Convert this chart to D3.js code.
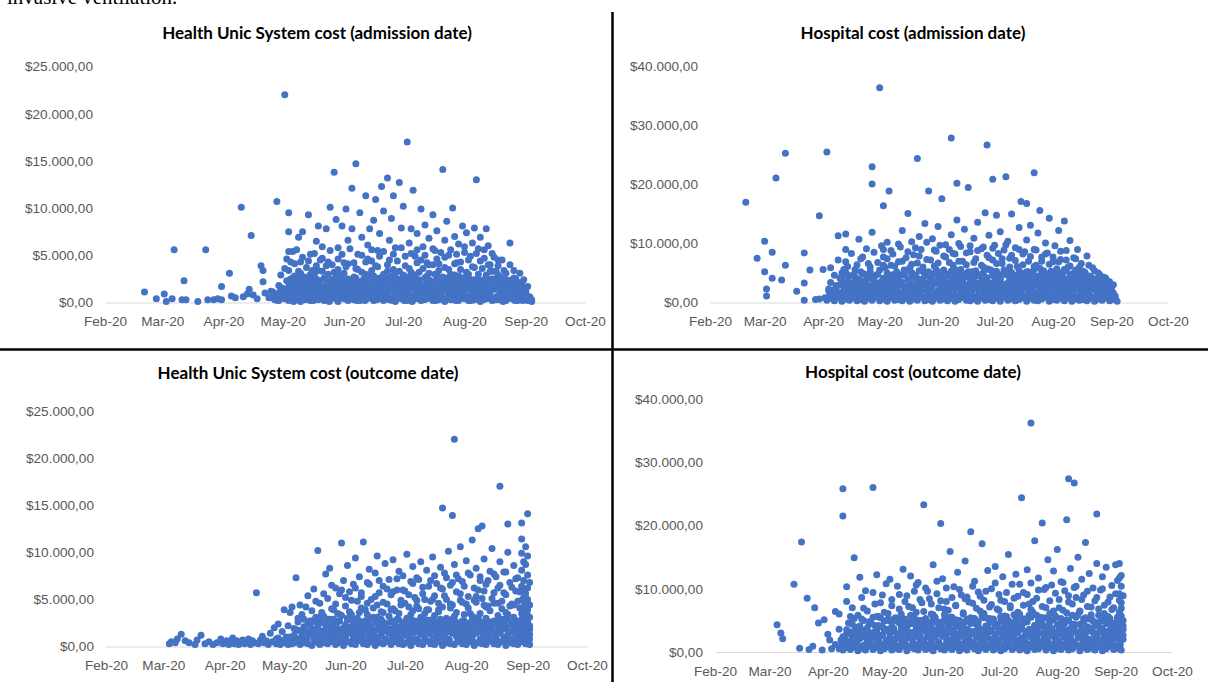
<!DOCTYPE html>
<html>
<head>
<meta charset="utf-8">
<script src="https://cdn.jsdelivr.net/npm/d3@7/dist/d3.min.js"></script>
<style>
  body { margin: 0; background: #fff; }
  svg { display: block; font-family: Lato, 'Open Sans', sans-serif; }
</style>
</head>
<body>
<svg id="chart" width="1208" height="682"></svg>
<script>
// x values are days counted from 1 Feb 2020, y values are in thousands of $
const monthLabels = ['Feb-20', 'Mar-20', 'Apr-20', 'May-20', 'Jun-20', 'Jul-20', 'Aug-20', 'Sep-20', 'Oct-20'];
const monthStarts = [0, 29, 60, 90, 121, 151, 182, 213, 243];
const sisTicks = [0, 5, 10, 15, 20, 25];
const hospTicks = [0, 10, 20, 30, 40];

// Health Unic System cost by admission date
const sisAdmHigh = [
  [20,1.1],[26,.4],[30,.9],[31,.1],[34,.4],[35,5.6],[39,.3],[40,2.3],[41,.3],[47,.1],[51,5.6],[52,.3],[55,.3],[57,.4],
  [59,.3],[59,1.7],[63,3.1],[64,.7],[66,.5],[69,10.1],[70,.6],[72,.9],[73,1.4],[74,7.1],[75,.8],[77,.4],[79,3.9],[80,3.4],
  [80,2.2],[81,1.0],[83,.5],[84,1.2],[86,.8],[87,10.7],[88,.4],[89,1.3],[91,22.0],[93,9.5],[93,7.5],[93,5.4],[95,5.4],
  [97,5.6],[92,4.6],[94,4.3],[93,3.4],[98,6.9],[98,2.4],[93,2.1],
  [99,4.3],[100,7.5],[103,9.3],[104,5.1],[105,3.4],[107,6.5],[108,8.1],[109,4.5],[110,5.9],[112,7.8],[113,4.3],[114,10.1],
  [116,13.8],[117,8.8],[118,5.8],[120,8.1],[121,4.2],[122,9.9],[123,6.6],[125,12.1],[125,7.8],[127,14.7],[128,5.1],
  [129,9.5],[130,6.9],[132,11.3],[133,6.1],[134,7.8],[135,4.4],[136,8.7],[137,10.9],[138,5.5],[139,7.3],[140,12.3],
  [141,9.7],[143,13.2],[144,6.6],[145,8.9],[146,11.3],[147,5.8],[149,12.7],[150,7.9],[151,10.2],[153,17.0],[154,6.3],
  [155,7.8],[156,11.9],[157,4.9],[158,7.3],[160,9.9],[161,5.9],[162,8.2],[163,4.2],[164,6.8],[166,9.3],[167,5.5],
  [168,7.6],[169,4.1],[171,14.1],[172,6.6],[173,8.6],[174,5.0],[176,10.0],[177,7.0],[178,4.2],[179,6.2],[181,8.1],
  [182,5.3],[183,7.4],[184,4.5],[186,6.3],[187,7.9],[188,13.0],[189,5.7],[190,6.9],[192,4.7],[193,7.8],[194,6.0],
  [195,4.0],[196,5.2],[198,3.3],[199,4.5],[201,2.5],[202,3.4],[205,6.3],[206,2.4],[208,1.7],[209,1.2],[211,1.3],
  [213,.7],[215,.4],[216,.3]
];
const sisAdmMid = [
  [96,2.8],[97,1.9],[99,3.1],[100,2.2],[101,1.6],[102,3.7],[103,2.5],[104,1.8],[106,2.9],[107,3.9],[108,2.1],[109,1.5],
  [110,3.3],[111,2.6],[112,1.9],[113,3.0],[114,2.3],[115,4.0],[116,1.7],[117,2.8],[118,3.5],[119,2.0],[120,1.6],
  [121,3.1],[122,2.4],[123,4.1],[124,1.8],[126,2.7],[127,3.6],[128,2.2],[129,1.7],[130,3.2],[131,2.5],[132,4.3],
  [133,1.9],[134,2.9],[135,3.4],[136,2.1],[137,1.6],[138,3.8],[139,2.6],[140,1.9],[141,3.0],[142,2.3],[143,4.0],
  [144,1.7],[145,2.8],[146,3.5],[147,2.0],[148,1.6],[149,3.3],[150,2.5],[151,1.8],[152,3.9],[153,2.7],[154,2.1],
  [155,3.2],[156,1.7],[157,2.9],[158,4.2],[159,2.4],[160,1.9],[161,3.6],[162,2.6],[163,1.7],[164,3.1],[165,2.2],
  [166,4.0],[167,1.8],[168,2.9],[169,3.4],[170,2.0],[171,1.6],[172,3.7],[173,2.5],[174,1.9],[175,3.0],[176,2.3],
  [177,4.1],[178,1.7],[179,2.8],[180,3.5],[181,2.1],[182,1.6],[183,3.2],[184,2.6],[185,1.9],[186,3.8],[187,2.4],
  [188,1.8],[189,3.0],[190,2.2],[191,3.6],[192,1.7],[193,2.7],[194,2.0],[195,3.3],[196,1.6],[197,2.5],[198,2.0],
  [199,2.9],[200,1.7],[201,1.9],[203,2.4],[204,1.6],[206,1.9],[207,2.6],[209,1.6],[210,2.1],[212,1.5]
];
const sisAdmMore = [
  [88,1.8],[89,2.9],[90,1.5],[91,3.6],[92,1.2],[94,2.5],[95,1.4],[96,4.1],[97,1.3],[98,3.3],[99,1.9],[100,4.8],[101,2.7],
  [102,1.3],[103,4.4],[104,3.0],[105,1.6],[106,5.2],[107,2.0],[108,3.4],[109,1.2],[110,4.7],[111,1.5],[112,3.9],
  [113,1.3],[114,5.5],[115,2.4],[116,3.2],[117,1.4],[118,4.6],[119,2.9],[120,5.1],[121,1.3],[122,3.8],[123,2.0],
  [124,5.7],[125,1.5],[126,4.2],[127,2.3],[128,3.5],[129,1.4],[130,5.0],[131,1.8],[132,3.0],[133,4.6],[134,1.3],
  [135,5.6],[136,2.8],[137,3.9],[138,1.5],[139,4.9],[140,2.4],[141,5.4],[142,1.4],[143,3.3],[144,4.5],[145,1.7],
  [146,5.1],[147,3.1],[148,4.4],[149,1.5],[150,5.8],[151,2.9],[152,4.9],[153,1.3],[154,3.6],[155,5.2],[156,2.6],
  [157,1.4],[158,5.6],[159,3.2],[160,4.5],[161,1.2],[162,5.0],[163,2.8],[164,4.0],[165,1.5],[166,5.7],[167,3.0],
  [168,4.6],[169,1.3],[170,5.3],[171,2.7],[172,4.8],[173,1.4],[174,3.5],[175,5.6],[176,1.6],[177,2.9],[178,5.1],
  [179,1.3],[180,4.3],[181,2.6],[182,5.9],[183,1.5],[184,3.0],[185,4.9],[186,1.2],[187,3.7],[188,5.2],[189,2.2],
  [190,4.4],[191,1.4],[192,5.6],[193,2.9],[194,4.0],[195,1.3],[196,3.3],[197,4.8],[198,1.6],[199,3.9],[200,2.7],
  [201,4.5],[202,1.4],[203,3.1],[204,2.3],[205,4.0],[206,1.3],[207,3.4],[208,2.5],[209,2.0],[210,3.1],[211,1.6],
  [212,2.4],[213,1.2],[214,1.7]
];
const sisAdmFill = [
  [92,2.3],[93,1.6],[94,2.0],[95,2.6],[96,1.5],[97,2.2],[98,1.8],[99,2.5],[100,1.4],[101,2.1],[102,2.6],[103,1.7],
  [104,2.4],[105,2.0],[106,1.5],[107,2.5],[108,1.8],[109,2.3],[110,1.6],[111,2.6],[112,1.4],[113,2.1],[114,1.9],
  [115,2.4],[116,1.5],[117,2.2],[118,2.6],[119,1.7],[120,2.4],[121,1.9],[122,1.5],[123,2.5],[124,2.0],[125,2.3],
  [126,1.6],[127,2.6],[128,1.8],[129,2.2],[130,1.5],[131,2.4],[132,2.0],[133,1.7],[134,2.6],[135,1.9],[136,2.3],
  [137,1.4],[138,2.1],[139,2.5],[140,1.6],[141,2.2],[142,1.8],[143,2.6],[144,1.5],[145,2.3],[146,2.0],[147,1.7],
  [148,2.5],[149,1.9],[150,2.2],[151,1.4],[152,2.4],[153,1.8],[154,2.6],[155,1.6],[156,2.1],[157,2.5],[158,1.7],
  [159,2.3],[160,1.9],[161,1.5],[162,2.6],[163,2.0],[164,2.4],[165,1.6],[166,2.2],[167,1.8],[168,2.5],[169,1.5],
  [170,2.3],[171,2.0],[172,1.7],[173,2.6],[174,1.9],[175,2.4],[176,1.5],[177,2.1],[178,2.5],[179,1.8],[180,2.2],
  [181,1.6],[182,2.6],[183,2.0],[184,1.7],[185,2.4],[186,1.9],[187,2.3],[188,1.5],[189,2.5],[190,2.0],[191,1.7],
  [192,2.4],[193,1.9],[194,2.2],[195,1.6],[196,2.5],[197,1.8],[198,2.3],[199,1.5],[200,2.1],[201,1.8],[202,2.4],
  [203,1.6],[204,2.0],[205,1.5],[206,2.2],[207,1.7],[208,1.9],[210,1.5],[211,2.0],[212,1.4]
];
const sisAdmLow = [
  [84,.5],[85,1.1],[86,.3],[87,.9],[88,.2],[89,1.3],[90,.6],[91,.4],[92,1.0],[93,.2],[94,1.4],[95,.5],[96,.8],[97,.3],
  [98,1.2],[99,.1],[100,.7],[101,1.0],[102,.4],[103,1.3],[104,.2],[105,.9],[106,.6],[107,1.1],[108,.3],[109,1.4],
  [110,.5],[111,.2],[112,1.0],[113,.7],[114,.3],[115,1.2],[116,.5],[117,.9],[118,.1],[119,1.3],[120,.6],[121,.4],
  [122,1.1],[123,.2],[124,.8],[125,1.4],[126,.3],[127,1.0],[128,.5],[129,.2],[130,1.2],[131,.7],[132,.3],[133,1.3],
  [134,.5],[135,.9],[136,.2],[137,1.1],[138,.6],[139,.4],[140,1.4],[141,.2],[142,.8],[143,1.0],[144,.3],[145,1.2],
  [146,.5],[147,.1],[148,.9],[149,1.3],[150,.4],[151,.7],[152,1.1],[153,.2],[154,1.4],[155,.6],[156,.3],[157,1.0],
  [158,.5],[159,1.2],[160,.2],[161,.8],[162,1.3],[163,.4],[164,.6],[165,1.1],[166,.2],[167,.9],[168,1.4],[169,.3],
  [170,1.0],[171,.5],[172,.1],[173,1.2],[174,.7],[175,.3],[176,1.3],[177,.5],[178,.9],[179,.2],[180,1.1],[181,.6],
  [182,.4],[183,1.4],[184,.2],[185,.8],[186,1.0],[187,.3],[188,1.2],[189,.5],[190,.1],[191,.9],[192,1.3],[193,.4],
  [194,.7],[195,1.1],[196,.2],[197,1.4],[198,.6],[199,.3],[200,1.0],[201,.5],[202,1.2],[203,.2],[204,.8],[205,1.3],
  [206,.4],[207,.6],[208,1.1],[209,.2],[210,.9],[211,.5],[212,.3],[213,1.0],[214,.2],[215,.6],[216,.1],
  [85.5,.6],[87.5,.2],[89.5,.7],[91.5,1.2],[93.5,.8],[95.5,.1],[97.5,1.1],[99.5,.6],[101.5,.3],[103.5,.8],[105.5,.2],
  [107.5,.5],[109.5,.9],[111.5,1.2],[113.5,.1],[115.5,.6],[117.5,.3],[119.5,.8],[121.5,1.2],[123.5,.7],[125.5,.4],
  [127.5,.2],[129.5,.9],[131.5,.2],[133.5,.7],[135.5,.4],[137.5,.3],[139.5,1.0],[141.5,.9],[143.5,.5],[145.5,.2],
  [147.5,1.0],[149.5,.6],[151.5,.2],[153.5,.9],[155.5,.1],[157.5,.4],[159.5,.7],[161.5,.3],[163.5,1.0],[165.5,.5],
  [167.5,.2],[169.5,.8],[171.5,1.2],[173.5,.4],[175.5,.9],[177.5,.2],[179.5,.7],[181.5,1.0],[183.5,.6],[185.5,.2],
  [187.5,.9],[189.5,1.0],[191.5,.3],[193.5,1.1],[195.5,.5],[197.5,.3],[199.5,.8],[201.5,.1],[203.5,.9],[205.5,.5],
  [207.5,.2],[209.5,.7],[211.5,.2],[213.5,.4],[215.5,.3]
];

// Hospital cost by admission date
const hospAdmHigh = [
  [19,17.0],[25,7.5],[29,10.4],[29,5.2],[30,2.3],[30,1.1],[33,8.5],[33,4.1],[35,21.1],[38,3.8],[40,25.3],[40,6.3],
  [46,1.9],[50,8.4],[50,3.3],[50,.4],[53,5.5],[56,.5],[58,14.7],[58,.6],[60,5.6],[61,.8],[62,25.5],[63,2.3],[68,11.3],
  [70,3.3],[71,5.6],[72,11.6],[72,9.0],[72,6.9],[76,3.0],[77,5.6],[78,3.9],[79,10.7],[80,7.4],[84,6.6],[86,23.0],
  [86,20.1],[86,11.9],[90,36.4],[92,16.4],[92,9.0],[92,7.7],[92,6.3],[94,10.2],[95,18.9],[95,3.8],[96,6.3],[97,8.2],
  [100,6.9],[101,9.4],[102,12.2],[103,4.8],[104,7.6],[105,15.1],[106,5.9],[107,10.3],[108,8.1],[109,4.4],[110,24.4],
  [110,6.7],[111,11.2],[112,9.0],[113,5.3],[114,13.4],[115,7.3],[116,18.9],[117,4.6],[118,10.8],[119,6.2],[120,8.7],
  [121,12.9],[122,5.1],[123,17.6],[124,7.9],[125,9.8],[126,4.5],[127,6.8],[128,27.9],[128,11.5],[129,8.3],[130,5.6],
  [131,20.2],[131,14.0],[132,7.0],[133,9.5],[134,4.9],[135,12.4],[136,6.4],[137,19.5],[138,8.6],[139,5.2],[140,10.9],
  [141,7.4],[142,13.6],[143,4.7],[144,9.1],[145,6.0],[146,15.2],[147,26.7],[147,8.0],[148,11.4],[149,5.5],[150,20.9],
  [150,7.2],[151,9.7],[152,14.8],[153,4.8],[154,12.0],[155,6.6],[156,8.9],[157,21.3],[157,5.3],[158,10.4],[159,7.5],
  [160,15.0],[161,4.4],[162,9.3],[163,6.1],[164,12.7],[165,17.1],[166,8.2],[167,5.0],[168,16.8],[168,10.6],[169,7.0],
  [170,13.1],[171,4.6],[172,22.0],[172,9.0],[173,6.3],[174,11.8],[175,15.6],[176,7.7],[177,5.4],[178,10.1],[179,8.4],
  [180,14.3],[181,4.9],[182,6.9],[183,9.6],[184,5.7],[185,12.2],[186,7.3],[187,4.5],[188,13.8],[189,8.8],[190,6.0],
  [191,10.5],[192,4.8],[193,7.6],[194,5.5],[195,9.0],[196,4.2],[197,6.6],[199,5.1],[200,7.9],[202,4.4],[203,5.9],
  [205,3.8],[206,5.0],[208,3.5],[209,4.3],[211,3.1],[212,2.4],[214,1.6],[215,.8]
];
const hospAdmMid = [
  [64,3.4],[66,4.6],[67,2.9],[69,4.1],[71,3.0],[73,4.7],[74,3.3],[75,2.8],[77,4.3],[79,3.1],[81,4.9],[82,2.7],[83,3.8],
  [85,4.4],[87,3.2],[88,2.6],[89,4.8],[91,3.6],[93,2.9],[94,4.2],[96,3.3],[98,4.5],[99,2.8],[100,3.9],[102,3.1],
  [103,4.6],[105,2.7],[106,3.7],[107,4.9],[109,3.0],[110,4.1],[112,2.8],[113,3.6],[114,4.7],[116,3.2],[117,2.6],
  [118,4.0],[120,3.4],[121,4.8],[122,2.9],[124,3.9],[125,4.5],[126,3.1],[128,2.7],[129,4.2],[130,3.5],[132,4.9],
  [133,2.8],[134,3.7],[136,4.4],[137,3.0],[138,2.6],[140,4.1],[141,3.3],[142,4.7],[144,2.9],[145,3.8],[146,4.3],
  [148,3.2],[149,2.7],[150,4.6],[152,3.5],[153,2.8],[154,4.0],[156,3.1],[157,4.8],[158,2.6],[160,3.9],[161,3.3],
  [162,4.4],[164,2.9],[165,3.6],[166,4.7],[168,3.0],[169,4.2],[170,2.7],[172,3.8],[173,4.5],[174,3.2],[176,2.8],
  [177,4.1],[178,3.4],[180,4.9],[181,2.9],[182,3.7],[184,4.3],[185,3.1],[186,2.6],[188,4.0],[189,3.5],[190,2.8],
  [192,3.9],[193,3.0],[194,4.4],[196,2.7],[197,3.6],[198,4.1],[200,3.2],[201,2.6],[202,3.8],[204,3.0],[205,2.7],
  [207,3.3],[208,2.8],[210,2.9],[211,2.5],[213,2.7]
];
const hospAdmMore = [
  [64,5.9],[66,2.2],[68,7.2],[69,3.0],[70,5.0],[72,1.9],[73,6.1],[74,2.6],[75,8.3],[76,4.6],[78,6.4],[79,2.1],[80,5.2],
  [81,7.7],[82,3.7],[83,9.1],[84,2.4],[85,6.0],[86,4.0],[87,8.5],[88,1.7],[89,6.8],[90,3.0],[91,9.6],[92,2.5],[93,5.9],
  [94,7.4],[95,2.0],[96,8.8],[97,4.7],[98,6.2],[99,1.8],[100,9.9],[101,3.5],[102,7.0],[103,2.3],[104,5.3],[105,8.6],
  [106,1.9],[107,6.5],[108,4.2],[109,9.3],[110,2.7],[111,7.9],[112,3.9],[113,6.0],[114,2.1],[115,10.2],[116,4.8],
  [117,7.2],[118,1.8],[119,8.9],[120,3.6],[121,6.7],[122,9.7],[123,2.4],[124,5.5],[125,7.7],[126,3.0],[127,9.0],
  [128,1.9],[129,6.3],[130,8.2],[131,3.4],[132,10.0],[133,5.6],[134,7.0],[135,2.2],[136,8.4],[137,4.5],[138,9.6],
  [139,2.8],[140,6.8],[141,5.0],[142,8.8],[143,1.7],[144,6.3],[145,9.4],[146,3.2],[147,5.7],[148,7.6],[149,2.5],
  [150,9.2],[151,4.3],[152,6.6],[153,8.3],[154,2.0],[155,7.4],[156,5.1],[157,9.8],[158,3.3],[159,6.0],[160,8.0],
  [161,2.3],[162,7.1],[163,4.6],[164,9.0],[165,2.9],[166,6.4],[167,8.6],[168,3.7],[169,5.2],[170,7.8],[171,1.9],
  [172,6.1],[173,8.9],[174,3.0],[175,5.8],[176,7.0],[177,2.6],[178,8.2],[179,4.1],[180,6.5],[181,2.2],[182,7.7],
  [183,5.0],[184,3.2],[185,6.9],[186,8.7],[187,2.4],[188,5.6],[189,7.2],[190,3.5],[191,6.2],[192,2.1],[193,5.0],
  [194,7.4],[195,3.0],[196,6.0],[197,2.4],[198,5.3],[199,3.6],[200,4.5],[201,6.3],[202,2.2],[203,4.0],[204,5.4],
  [205,2.6],[206,3.7],[207,4.6],[208,2.0],[209,3.3],[210,4.1],[211,1.8],[212,3.5],[213,2.3],[214,3.0]
];
const hospAdmFill = [
  [70,4.2],[71,3.0],[72,5.1],[73,3.6],[74,2.7],[75,4.5],[76,3.3],[77,5.4],[78,2.8],[79,4.0],[80,3.5],[81,2.6],[82,4.8],
  [83,3.1],[84,4.3],[85,5.3],[86,2.9],[87,3.9],[88,4.6],[89,3.2],[90,5.5],[91,2.7],[92,4.1],[93,3.7],[94,5.0],[95,3.0],
  [96,4.4],[97,2.8],[98,3.6],[99,5.2],[100,2.9],[101,4.7],[102,3.4],[103,5.5],[104,2.6],[105,4.0],[106,3.5],[107,5.1],
  [108,2.9],[109,4.6],[110,3.2],[111,5.4],[112,3.9],[113,2.7],[114,4.5],[115,3.3],[116,5.2],[117,3.8],[118,2.8],
  [119,4.9],[120,5.6],[121,3.1],[122,4.3],[123,3.6],[124,5.0],[125,2.7],[126,4.8],[127,3.4],[128,5.3],[129,3.0],
  [130,4.6],[131,2.6],[132,3.9],[133,5.5],[134,3.1],[135,4.4],[136,2.9],[137,5.2],[138,3.7],[139,4.0],[140,2.8],
  [141,5.4],[142,3.2],[143,4.5],[144,3.6],[145,5.0],[146,2.7],[147,4.2],[148,5.6],[149,3.3],[150,4.7],[151,2.9],
  [152,5.3],[153,3.5],[154,4.1],[155,3.0],[156,5.5],[157,2.6],[158,4.6],[159,3.8],[160,5.1],[161,2.8],[162,4.3],
  [163,3.4],[164,5.4],[165,3.1],[166,4.0],[167,3.6],[168,5.2],[169,2.7],[170,4.9],[171,3.3],[172,5.6],[173,2.9],
  [174,4.4],[175,3.5],[176,5.0],[177,3.0],[178,4.7],[179,2.6],[180,3.9],[181,5.3],[182,3.2],[183,4.5],[184,2.8],
  [185,5.1],[186,3.7],[187,4.2],[188,2.9],[189,5.4],[190,3.3],[191,4.6],[192,3.0],[193,4.8],[194,2.7],[195,3.9],
  [196,5.0],[197,3.2],[198,4.3],[199,2.8],[200,3.7],[201,4.5],[202,3.1],[203,3.6],[204,4.0],[205,3.3],[206,2.7],
  [207,3.9],[208,3.0],[209,2.6],[210,3.4],[211,2.8],[212,3.1]
];
const hospAdmLow = [
  [62,.4],[63,2.0],[64,.7],[65,1.8],[66,.3],[67,2.3],[68,.9],[69,1.6],[70,.2],[71,2.1],[72,.6],[73,2.4],[74,.4],
  [75,1.7],[76,.8],[77,2.2],[78,.3],[79,1.9],[80,.5],[81,2.4],[82,.2],[83,1.6],[84,.7],[85,2.0],[86,.4],[87,2.3],
  [88,.9],[89,1.8],[90,.3],[91,2.1],[92,.6],[93,1.7],[94,.2],[95,2.4],[96,.8],[97,1.9],[98,.4],[99,2.2],[100,.5],
  [101,1.6],[102,.3],[103,2.0],[104,.7],[105,2.3],[106,.2],[107,1.8],[108,.6],[109,2.1],[110,.4],[111,1.7],[112,.9],
  [113,2.4],[114,.3],[115,1.9],[116,.5],[117,2.2],[118,.2],[119,1.6],[120,.8],[121,2.0],[122,.4],[123,2.3],[124,.6],
  [125,1.8],[126,.3],[127,2.1],[128,.7],[129,1.7],[130,.2],[131,2.4],[132,.5],[133,1.9],[134,.9],[135,2.2],[136,.4],
  [137,1.6],[138,.3],[139,2.0],[140,.6],[141,2.3],[142,.2],[143,1.8],[144,.8],[145,2.1],[146,.4],[147,1.7],[148,.5],
  [149,2.4],[150,.3],[151,1.9],[152,.7],[153,2.2],[154,.2],[155,1.6],[156,.9],[157,2.0],[158,.4],[159,2.3],[160,.6],
  [161,1.8],[162,.3],[163,2.1],[164,.5],[165,1.7],[166,.8],[167,2.4],[168,.2],[169,1.9],[170,.7],[171,2.2],[172,.4],
  [173,1.6],[174,.3],[175,2.0],[176,.6],[177,2.3],[178,.9],[179,1.8],[180,.2],[181,2.1],[182,.5],[183,1.7],[184,.4],
  [185,2.4],[186,.7],[187,1.9],[188,.3],[189,2.2],[190,.8],[191,1.6],[192,.2],[193,2.0],[194,.6],[195,2.3],[196,.4],
  [197,1.8],[198,.5],[199,2.1],[200,.3],[201,1.7],[202,.7],[203,2.4],[204,.2],[205,1.9],[206,.6],[207,2.2],[208,.4],
  [209,1.6],[210,.8],[211,2.0],[212,.3],[213,1.5],[214,.5],[215,1.1],[216,.2],
  [63.5,1.2],[65.5,1.0],[67.5,1.3],[69.5,.9],[71.5,1.1],[73.5,1.4],[75.5,1.0],[77.5,1.2],[79.5,.9],[81.5,1.3],
  [83.5,1.1],[85.5,1.0],[87.5,1.4],[89.5,1.2],[91.5,.9],[93.5,1.1],[95.5,1.3],[97.5,1.0],[99.5,1.2],[101.5,1.4],
  [103.5,.9],[105.5,1.1],[107.5,1.3],[109.5,1.0],[111.5,1.2],[113.5,.9],[115.5,1.4],[117.5,1.1],[119.5,1.0],
  [121.5,1.3],[123.5,1.2],[125.5,.9],[127.5,1.1],[129.5,1.4],[131.5,1.0],[133.5,1.2],[135.5,1.3],[137.5,.9],
  [139.5,1.1],[141.5,1.0],[143.5,1.4],[145.5,1.2],[147.5,.9],[149.5,1.3],[151.5,1.1],[153.5,1.0],[155.5,1.2],
  [157.5,1.4],[159.5,.9],[161.5,1.1],[163.5,1.3],[165.5,1.0],[167.5,1.2],[169.5,.9],[171.5,1.4],[173.5,1.1],
  [175.5,1.0],[177.5,1.3],[179.5,1.2],[181.5,.9],[183.5,1.1],[185.5,1.4],[187.5,1.0],[189.5,1.2],[191.5,1.3],
  [193.5,.9],[195.5,1.1],[197.5,1.0],[199.5,1.4],[201.5,1.2],[203.5,.9],[205.5,1.3],[207.5,1.1],[209.5,1.0],
  [211.5,1.2],[213.5,.9]
];

// Health Unic System cost by outcome date
const sisOutHigh = [
  [32,.3],[33,.5],[35,.4],[36,.8],[38,1.3],[40,.6],[42,.4],[45,.2],[46,.7],[48,1.2],[50,.3],[52,.5],[54,.2],[56,.4],
  [58,.8],[59,.3],[61,.6],[62,.2],[63,.5],[64,.9],[65,.3],[66,.6],[67,.2],[68,.4],[69,.7],[70,.3],[71,.5],[72,.8],
  [73,.2],[74,.6],[75,.4],[76,5.7],[77,.3],[78,.7],[79,1.1],[80,.4],[81,.6],[82,.2],[83,1.4],[84,.5],[85,2.0],[86,.8],
  [87,2.4],[88,.3],[89,1.6],[90,3.9],[91,.6],[92,2.2],[93,1.0],[94,4.2],[95,.4],[96,7.3],[96,1.8],[97,2.6],[98,.7],
  [99,3.4],[100,1.3],
  [93,3.6],[98,4.4],[100,2.9],[102,5.4],[104,3.8],[105,6.1],[107,10.2],[108,4.6],[110,3.2],[111,7.7],[112,5.1],
  [113,8.3],[114,4.0],[116,6.2],[117,3.5],[118,5.6],[119,11.0],[120,7.0],[121,4.3],[122,8.6],[123,5.8],[124,3.4],
  [125,6.6],[126,9.4],[127,4.8],[128,7.4],[129,5.3],[130,11.1],[131,3.9],[132,6.8],[133,8.2],[134,5.0],[135,4.1],
  [136,7.8],[137,9.6],[138,5.7],[139,3.7],[140,6.4],[141,8.8],[142,4.5],[143,7.1],[144,5.5],[145,9.2],[146,3.8],
  [147,6.0],[148,8.0],[149,4.9],[150,7.5],[151,5.9],[152,9.8],[153,4.2],[154,6.9],[155,8.5],[156,5.2],[157,7.3],
  [158,4.0],[159,9.0],[160,6.3],[161,5.0],[162,8.1],[163,3.9],[164,7.0],[165,9.5],[166,5.4],[167,6.7],[168,4.6],
  [169,8.4],[170,14.7],[170,6.1],[171,7.8],[172,5.0],[173,10.1],[174,6.5],[175,13.9],[175,4.4],[176,22.0],[176,8.7],
  [177,5.8],[178,7.2],[179,10.6],[180,4.7],[181,6.4],[182,9.1],[183,5.3],[184,7.6],[185,11.3],[186,4.9],[187,8.3],
  [188,12.5],[188,6.0],[189,7.0],[190,12.8],[190,5.1],[191,9.3],[192,6.6],[193,4.3],[194,8.0],[195,10.4],[196,5.7],
  [197,7.4],[198,6.2],[199,17.0],[199,9.0],[200,4.8],[201,7.9],[202,5.5],[203,13.0],[203,10.0],[204,6.8],[205,4.5],
  [206,8.6],[207,5.9],[208,7.3],[209,4.1],[210,13.1],[210,9.9],[210,8.1],[210,6.4],[211,5.2],[211,7.0],[212,4.6],
  [212,8.7],[213,14.1],[213,6.2],[213,5.0],[213,3.9],[214,4.4]
];
const sisOutMid = [
  [100,2.1],[101,1.6],[103,2.7],[104,1.9],[106,3.1],[107,2.3],[108,1.7],[109,3.6],[110,2.5],[112,1.8],[113,2.9],
  [114,2.2],[115,3.9],[116,1.6],[117,2.6],[119,3.3],[120,2.0],[121,1.7],[122,2.8],[123,3.7],[124,2.1],[126,1.8],
  [127,3.0],[128,2.4],[129,4.1],[130,1.9],[131,2.7],[132,3.4],[133,2.2],[134,1.6],[135,3.1],[136,2.5],[137,4.4],
  [138,1.9],[139,2.8],[140,3.6],[141,2.1],[142,1.7],[143,3.2],[144,2.6],[145,4.0],[146,2.0],[147,2.9],[148,3.5],
  [149,1.8],[150,2.4],[151,4.6],[152,3.0],[153,2.2],[154,1.7],[155,3.8],[156,2.7],[157,4.3],[158,2.0],[159,3.1],
  [160,1.6],[161,2.5],[162,3.9],[163,2.3],[164,4.8],[165,1.9],[166,3.3],[167,2.6],[168,3.7],[169,2.1],[170,4.2],
  [171,1.8],[172,3.0],[173,2.4],[174,4.5],[175,2.9],[176,1.7],[177,3.6],[178,2.2],[179,4.9],[180,2.7],[181,3.4],
  [182,1.9],[183,4.1],[184,2.5],[185,3.2],[186,1.6],[187,4.7],[188,2.8],[189,3.5],[190,2.0],[191,4.4],[192,3.0],
  [193,2.3],[194,3.8],[195,1.8],[196,4.6],[197,2.6],[198,3.3],[199,2.1],[200,4.0],[201,2.9],[202,3.6],[203,1.7],
  [204,4.3],[205,2.4],[206,3.1],[207,2.0],[208,4.8],[209,2.7],[210,3.5],[210,2.1],[211,4.2],[211,1.8],[212,3.0],
  [212,2.5],[213,4.5],[213,1.6],[213,3.3],[214,2.2]
];
const sisOutMore = [
  [95,1.9],[97,3.0],[99,1.4],[101,4.2],[102,1.6],[104,2.6],[105,1.3],[106,4.8],[108,3.1],[109,1.5],[110,5.6],[111,2.4],
  [113,1.4],[114,6.5],[115,2.9],[116,4.5],[117,1.5],[118,3.4],[119,6.0],[120,1.3],[121,5.2],[122,3.0],[123,1.6],
  [124,4.9],[125,2.4],[126,6.2],[127,1.4],[128,3.6],[129,5.7],[130,2.6],[131,1.3],[132,4.6],[133,6.6],[134,2.9],
  [135,1.5],[136,5.3],[137,3.1],[138,7.0],[139,1.6],[140,4.7],[141,2.5],[142,6.1],[143,1.4],[144,3.9],[145,5.8],
  [146,2.7],[147,7.2],[148,1.5],[149,4.4],[150,6.0],[151,2.2],[152,1.3],[153,5.5],[154,3.4],[155,6.7],[156,1.6],
  [157,4.9],[158,7.1],[159,2.4],[160,5.6],[161,3.5],[162,1.4],[163,6.4],[164,2.8],[165,5.0],[166,7.5],[167,1.5],
  [168,3.9],[169,6.2],[170,2.5],[171,5.4],[172,7.3],[173,1.6],[174,4.1],[175,6.8],[176,3.2],[177,7.6],[178,1.4],
  [179,5.6],[180,6.9],[181,2.3],[182,4.5],[183,7.8],[184,3.5],[185,1.5],[186,6.2],[187,5.3],[188,3.1],[189,7.4],
  [190,1.6],[191,5.9],[192,4.2],[193,7.0],[194,2.6],[195,5.1],[196,7.7],[197,1.4],[198,4.6],[199,6.5],[200,2.8],
  [201,5.7],[202,7.9],[203,3.4],[204,1.6],[205,6.3],[206,4.4],[207,7.2],[208,2.2],[209,5.8],[210,1.4],[210,11.4],
  [210,4.9],[211,2.8],[211,6.0],[211,9.0],[212,1.2],[212,5.6],[212,10.6],[212,3.6],[213,7.6],[213,2.4],[213,9.6],
  [214,1.3],[214,6.8],[214,3.1]
];
const sisOutFill = [
  [100,1.8],[102,2.4],[104,1.6],[105,2.8],[107,1.9],[108,2.6],[110,1.5],[111,2.2],[112,2.9],[114,1.7],[115,2.5],
  [117,1.9],[118,2.7],[119,1.6],[121,2.3],[122,1.8],[124,2.9],[125,1.5],[126,2.4],[128,1.7],[129,2.6],[130,2.1],
  [131,1.6],[132,2.8],[134,2.0],[135,1.5],[136,2.6],[137,1.8],[138,2.3],[139,2.9],[140,1.6],[141,2.4],[142,2.0],
  [143,1.7],[144,2.7],[145,1.9],[146,2.3],[147,1.5],[148,2.8],[149,2.1],[150,1.7],[151,2.6],[152,1.9],[153,2.4],
  [154,2.9],[155,1.6],[156,2.2],[157,1.8],[158,2.7],[159,1.5],[160,2.4],[161,2.0],[162,2.8],[163,1.7],[164,2.2],
  [165,2.6],[166,1.6],[167,2.4],[168,1.9],[169,2.9],[170,1.7],[171,2.3],[172,2.0],[173,2.7],[174,1.6],[175,2.2],
  [176,2.8],[177,1.8],[178,2.5],[179,1.5],[180,2.1],[181,2.7],[182,1.7],[183,2.4],[184,2.0],[185,2.8],[186,1.6],
  [187,2.3],[188,1.9],[189,2.6],[190,1.5],[191,2.2],[192,2.8],[193,1.7],[194,2.4],[195,2.0],[196,2.7],[197,1.6],
  [198,2.3],[199,2.9],[200,1.8],[201,2.5],[202,2.1],[203,2.8],[204,1.6],[205,2.4],[206,1.9],[207,2.7],[208,1.5],
  [209,2.3],[210,2.9],[210,.8],[211,2.4],[211,.6],[212,1.9],[212,.9],[213,2.6],[213,.7],[214,1.8],[214,.8]
];
const sisOutLow = [
  [86,.3],[87,.9],[88,.2],[89,.6],[90,.4],[91,1.0],[92,.2],[93,.7],[94,.3],[95,1.2],[96,.5],[97,.8],[98,.2],[99,1.1],
  [100,.4],[101,.9],[102,.3],[103,1.3],[104,.1],[105,.8],[106,.5],[107,1.2],[108,.2],[109,.9],[110,.4],[111,1.4],
  [112,.3],[113,1.0],[114,.6],[115,1.2],[116,.2],[117,.8],[118,.4],[119,1.3],[120,.1],[121,1.0],[122,.5],[123,1.4],
  [124,.3],[125,.9],[126,.2],[127,1.2],[128,.6],[129,1.1],[130,.3],[131,1.4],[132,.2],[133,.9],[134,.5],[135,1.3],
  [136,.1],[137,1.0],[138,.4],[139,1.2],[140,.3],[141,.8],[142,.6],[143,1.4],[144,.2],[145,1.1],[146,.5],[147,1.3],
  [148,.3],[149,.9],[150,.2],[151,1.2],[152,.4],[153,1.0],[154,.1],[155,1.4],[156,.5],[157,.8],[158,.3],[159,1.3],
  [160,.2],[161,1.1],[162,.6],[163,1.4],[164,.3],[165,.9],[166,.2],[167,1.2],[168,.5],[169,1.0],[170,.1],[171,1.3],
  [172,.4],[173,.8],[174,.3],[175,1.4],[176,.2],[177,1.1],[178,.6],[179,1.2],[180,.3],[181,.9],[182,.2],[183,1.3],
  [184,.5],[185,1.0],[186,.1],[187,1.4],[188,.4],[189,.8],[190,.3],[191,1.2],[192,.2],[193,1.1],[194,.6],[195,1.3],
  [196,.3],[197,.9],[198,.2],[199,1.4],[200,.5],[201,1.0],[202,.1],[203,1.2],[204,.4],[205,.8],[206,.3],[207,1.3],
  [208,.2],[209,1.1],[210,.5],[211,1.4],[212,.3],[213,.9],[214,.2],
  [95.5,.6],[97.5,1.7],[99.5,.5],[101.5,.7],[103.5,1.8],[105.5,.6],[107.5,.4],[109.5,1.6],[111.5,.7],[113.5,.5],
  [115.5,1.9],[117.5,.6],[119.5,.7],[121.5,1.7],[123.5,.5],[125.5,.6],[127.5,1.8],[129.5,.7],[131.5,.5],[133.5,1.6],
  [135.5,.6],[137.5,.7],[139.5,1.9],[141.5,.5],[143.5,.6],[145.5,1.7],[147.5,.7],[149.5,.5],[151.5,1.8],[153.5,.6],
  [155.5,.7],[157.5,1.6],[159.5,.5],[161.5,.6],[163.5,1.9],[165.5,.7],[167.5,.5],[169.5,1.7],[171.5,.6],[173.5,.7],
  [175.5,1.8],[177.5,.5],[179.5,.6],[181.5,1.6],[183.5,.7],[185.5,.5],[187.5,1.9],[189.5,.6],[191.5,.7],[193.5,1.7],
  [195.5,.5],[197.5,.6],[199.5,1.8],[201.5,.7],[203.5,.5],[205.5,1.6],[207.5,.6],[209.5,.7],[211.5,1.9],[213.5,.5]
];

// Hospital cost by outcome date
const hospOutHigh = [
  [33,4.3],[35,3.0],[36,2.1],[42,10.7],[45,.6],[46,17.4],[49,8.5],[50,.4],[52,.9],[53,7.0],[55,4.6],[57,.3],[58,5.1],
  [60,2.8],[61,1.9],[62,.5],[64,6.4],[64,1.2],[66,3.6],[68,21.5],[68,25.8],[70,8.0],[72,5.6],[74,14.9],[75,3.9],
  [77,11.8],[79,6.9],[80,9.7],[82,4.8],[84,26.0],[85,7.6],[86,12.2],[88,5.4],[89,9.0],[90,3.4],[92,6.1],[93,11.5],
  [94,8.3],[96,4.9],[97,10.4],[98,6.8],[100,13.1],[101,5.2],[102,8.9],[103,7.2],[104,12.0],[105,4.5],[106,9.6],
  [107,6.3],[108,11.0],[109,5.0],[110,7.8],[111,23.3],[112,10.1],[113,4.7],[114,8.4],[115,6.0],[116,13.8],[117,5.5],
  [118,9.2],[119,7.0],[120,20.3],[121,11.6],[122,4.8],[123,8.0],[124,6.6],[125,15.9],[126,5.3],[127,10.3],[128,7.4],
  [129,12.6],[130,4.6],[131,9.0],[132,6.2],[133,14.4],[134,8.7],[135,5.1],[136,19.0],[137,7.7],[138,11.2],[139,4.9],
  [140,9.5],[141,6.5],[142,17.1],[143,8.2],[144,5.4],[145,12.9],[146,7.1],[147,10.0],[148,4.7],[149,13.5],[150,6.8],
  [151,9.1],[152,5.6],[153,11.9],[154,8.0],[155,4.4],[156,15.4],[157,7.3],[158,10.7],[159,5.9],[160,12.3],[161,8.8],
  [162,6.0],[163,24.4],[164,9.4],[165,5.2],[166,13.0],[167,7.6],[168,36.2],[168,10.9],[169,6.3],[170,17.6],[171,8.5],
  [172,11.7],[173,5.5],[174,20.4],[175,9.9],[176,7.0],[177,14.6],[178,6.1],[179,10.6],[180,12.8],[181,5.7],[182,16.2],
  [183,8.3],[184,11.1],[185,6.6],[186,9.7],[187,20.9],[188,27.4],[188,7.9],[189,13.2],[190,5.8],[191,26.7],[191,10.2],
  [192,8.6],[193,15.0],[194,6.4],[195,11.5],[196,9.0],[197,17.3],[198,7.2],[199,12.4],[200,5.9],[201,10.1],[202,8.1],
  [203,21.8],[203,14.0],[204,6.8],[205,9.8],[206,11.9],[207,7.4],[208,13.4],[209,5.6],[210,8.7],[211,10.5],[212,7.0],
  [213,13.8],[214,11.3],[215,14.0],[215,9.2],[215,6.3],[216,7.8],[216,5.0],[216,12.1]
];
const hospOutMid = [
  [70,3.5],[73,4.4],[76,3.1],[78,5.2],[81,3.8],[83,4.6],[85,3.2],[87,5.6],[89,4.0],[91,3.4],[93,4.9],[95,3.7],[97,5.3],
  [99,3.3],[100,4.5],[102,3.9],[104,5.8],[105,3.1],[107,4.2],[109,3.6],[110,5.0],[112,3.3],[113,4.7],[115,3.9],
  [116,5.5],[118,3.2],[119,4.3],[121,3.7],[122,5.9],[124,3.0],[125,4.6],[127,3.5],[128,5.1],[130,4.0],[131,3.2],
  [133,4.8],[134,3.6],[136,5.4],[137,3.1],[139,4.4],[140,3.8],[142,5.7],[143,3.3],[145,4.1],[146,3.5],[148,5.2],
  [149,4.0],[151,3.2],[152,4.9],[154,3.7],[155,5.6],[157,3.4],[158,4.3],[160,3.0],[161,5.0],[163,3.9],[164,4.6],
  [166,3.3],[167,5.8],[169,3.6],[170,4.2],[172,3.1],[173,5.3],[175,4.0],[176,3.4],[178,4.8],[179,3.7],[181,5.5],
  [182,3.2],[184,4.5],[185,3.9],[187,5.1],[188,3.3],[190,4.4],[191,3.8],[193,5.9],[194,3.1],[196,4.7],[197,3.6],
  [199,5.2],[200,3.4],[202,4.1],[203,3.0],[205,4.9],[206,3.7],[208,5.4],[209,3.3],[211,4.6],[212,3.9],[214,5.0],
  [215,3.5],[215,4.4],[216,3.2],[216,5.7],[217,4.1]
];
const hospOutMore = [
  [66,6.0],[68,2.4],[70,10.3],[71,4.6],[73,7.0],[74,2.0],[76,5.8],[78,8.6],[79,3.0],[81,6.5],[82,2.2],[84,9.4],[85,4.2],
  [86,5.6],[88,7.8],[89,2.7],[90,6.3],[91,10.8],[92,3.5],[94,7.3],[95,5.2],[96,2.1],[98,9.1],[99,6.0],[100,3.1],
  [101,8.0],[103,4.4],[104,2.4],[105,7.0],[106,5.4],[107,10.6],[108,3.3],[109,8.3],[110,2.0],[111,6.4],[112,4.0],
  [113,9.6],[114,2.7],[115,7.6],[116,5.9],[117,3.4],[118,11.2],[119,4.7],[120,8.1],[121,2.5],[122,6.8],[123,10.1],
  [124,3.7],[125,5.5],[126,8.6],[127,2.2],[128,7.3],[129,4.5],[130,9.9],[131,3.0],[132,6.0],[133,8.4],[134,2.4],
  [135,7.9],[136,5.1],[137,10.4],[138,3.3],[139,6.9],[140,4.0],[141,8.8],[142,2.6],[143,6.1],[144,9.6],[145,3.9],
  [146,5.3],[147,7.5],[148,2.1],[149,10.9],[150,4.4],[151,6.6],[152,8.2],[153,3.1],[154,5.7],[155,9.4],[156,2.5],
  [157,7.0],[158,4.6],[159,8.5],[160,3.4],[161,6.3],[162,10.7],[163,2.2],[164,7.4],[165,5.1],[166,9.1],[167,3.6],
  [168,6.7],[169,8.0],[170,2.6],[171,5.8],[172,9.8],[173,4.1],[174,7.2],[175,2.3],[176,10.2],[177,5.4],[178,8.1],
  [179,3.2],[180,6.5],[181,9.3],[182,2.8],[183,7.0],[184,4.8],[185,11.0],[186,3.5],[187,6.2],[188,8.9],[189,2.4],
  [190,7.6],[191,4.4],[192,10.4],[193,3.0],[194,6.5],[195,8.3],[196,2.2],[197,5.4],[198,9.6],[199,3.8],[200,7.1],
  [201,4.9],[202,2.6],[203,8.6],[204,5.8],[205,3.2],[206,10.0],[207,6.1],[208,2.5],[209,7.9],[210,4.3],[211,6.7],
  [212,3.0],[213,9.2],[214,5.5],[215,2.3],[215,8.2],[215,11.7],[216,3.9],[216,6.9],[216,10.4],[217,2.7],[217,8.9]
];
const hospOutFill = [
  [70,2.9],[72,4.6],[73,3.2],[74,5.3],[75,2.7],[77,4.1],[78,3.5],[79,5.0],[80,2.8],[82,4.4],[83,3.0],[84,5.5],[86,3.4],
  [87,4.2],[88,2.6],[90,4.9],[91,3.6],[92,5.2],[93,2.8],[94,4.0],[95,3.3],[96,5.4],[97,2.9],[98,4.6],[99,3.7],[100,5.1],
  [101,2.7],[102,4.3],[103,3.1],[104,4.8],[105,5.5],[106,3.0],[107,3.8],[108,5.0],[109,2.6],[110,4.4],[111,3.5],
  [112,5.3],[113,2.9],[114,4.1],[115,3.2],[116,4.7],[117,5.4],[118,2.8],[119,3.9],[120,4.6],[121,3.3],[122,5.1],
  [123,2.7],[124,4.2],[125,3.6],[126,5.5],[127,3.0],[128,4.4],[129,2.8],[130,5.0],[131,3.7],[132,4.0],[133,2.6],
  [134,5.2],[135,3.4],[136,4.5],[137,2.9],[138,5.3],[139,3.1],[140,4.8],[141,3.6],[142,2.7],[143,5.4],[144,4.1],
  [145,3.0],[146,4.7],[147,3.3],[148,5.1],[149,2.8],[150,4.3],[151,3.8],[152,5.5],[153,2.6],[154,4.6],[155,3.2],
  [156,5.0],[157,3.5],[158,2.9],[159,4.4],[160,5.3],[161,3.1],[162,4.0],[163,3.6],[164,5.2],[165,2.7],[166,4.8],
  [167,3.4],[168,5.5],[169,2.9],[170,4.2],[171,3.7],[172,5.0],[173,3.0],[174,4.5],[175,5.4],[176,2.8],[177,3.9],
  [178,4.7],[179,3.3],[180,5.1],[181,2.6],[182,4.3],[183,3.5],[184,5.3],[185,3.0],[186,4.6],[187,2.8],[188,5.0],
  [189,3.7],[190,4.1],[191,3.2],[192,5.5],[193,2.7],[194,4.4],[195,3.6],[196,5.2],[197,2.9],[198,4.0],[199,3.4],
  [200,5.4],[201,3.1],[202,4.7],[203,2.6],[204,4.2],[205,3.8],[206,5.1],[207,3.0],[208,4.5],[209,2.8],[210,5.3],
  [211,3.5],[212,4.1],[213,3.2],[214,4.8],[215,2.9],[215,5.5],[216,4.3],[216,2.6],[217,3.6],[217,5.0]
];
const hospOutLow = [
  [66,.5],[67,1.9],[68,.3],[69,2.2],[70,.7],[71,1.7],[72,.4],[73,2.5],[74,.8],[75,1.8],[76,.2],[77,2.1],[78,.6],
  [79,2.4],[80,.3],[81,1.6],[82,.9],[83,2.0],[84,.4],[85,2.3],[86,.7],[87,1.8],[88,.2],[89,2.6],[90,.5],[91,1.9],
  [92,.8],[93,2.2],[94,.3],[95,1.7],[96,.6],[97,2.4],[98,.4],[99,2.0],[100,.9],[101,1.6],[102,.2],[103,2.3],[104,.7],
  [105,1.8],[106,.5],[107,2.5],[108,.3],[109,2.1],[110,.8],[111,1.7],[112,.4],[113,2.4],[114,.6],[115,1.9],[116,.2],
  [117,2.2],[118,.9],[119,1.6],[120,.5],[121,2.6],[122,.3],[123,2.0],[124,.7],[125,1.8],[126,.4],[127,2.3],[128,.8],
  [129,1.7],[130,.2],[131,2.5],[132,.6],[133,1.9],[134,.3],[135,2.1],[136,.9],[137,1.6],[138,.5],[139,2.4],[140,.2],
  [141,2.0],[142,.7],[143,1.8],[144,.4],[145,2.2],[146,.8],[147,1.7],[148,.3],[149,2.6],[150,.6],[151,1.9],[152,.2],
  [153,2.3],[154,.5],[155,1.6],[156,.9],[157,2.1],[158,.4],[159,2.4],[160,.7],[161,1.8],[162,.3],[163,2.0],[164,.6],
  [165,1.7],[166,.2],[167,2.5],[168,.8],[169,1.9],[170,.4],[171,2.2],[172,.5],[173,1.6],[174,.9],[175,2.3],[176,.3],
  [177,1.8],[178,.7],[179,2.6],[180,.2],[181,2.0],[182,.6],[183,1.7],[184,.4],[185,2.4],[186,.8],[187,1.9],[188,.3],
  [189,2.1],[190,.5],[191,1.6],[192,.9],[193,2.2],[194,.2],[195,2.5],[196,.7],[197,1.8],[198,.4],[199,2.0],[200,.6],
  [201,1.7],[202,.3],[203,2.3],[204,.8],[205,1.9],[206,.2],[207,2.4],[208,.5],[209,1.6],[210,.9],[211,2.1],[212,.4],
  [213,2.2],[214,.6],[215,1.8],[216,.3],[217,2.0],
  [67.5,1.1],[69.5,1.3],[71.5,1.0],[73.5,1.2],[75.5,1.4],[77.5,.9],[79.5,1.1],[81.5,1.3],[83.5,1.0],[85.5,1.2],
  [87.5,1.4],[89.5,1.1],[91.5,.9],[93.5,1.3],[95.5,1.2],[97.5,1.0],[99.5,1.4],[101.5,1.1],[103.5,.9],[105.5,1.3],
  [107.5,1.2],[109.5,1.0],[111.5,1.4],[113.5,1.1],[115.5,1.3],[117.5,.9],[119.5,1.2],[121.5,1.0],[123.5,1.4],
  [125.5,1.1],[127.5,1.3],[129.5,.9],[131.5,1.2],[133.5,1.0],[135.5,1.4],[137.5,1.1],[139.5,1.3],[141.5,.9],
  [143.5,1.2],[145.5,1.0],[147.5,1.4],[149.5,1.1],[151.5,1.3],[153.5,.9],[155.5,1.2],[157.5,1.0],[159.5,1.4],
  [161.5,1.1],[163.5,1.3],[165.5,.9],[167.5,1.2],[169.5,1.0],[171.5,1.4],[173.5,1.1],[175.5,1.3],[177.5,.9],
  [179.5,1.2],[181.5,1.0],[183.5,1.4],[185.5,1.1],[187.5,1.3],[189.5,.9],[191.5,1.2],[193.5,1.0],[195.5,1.4],
  [197.5,1.1],[199.5,1.3],[201.5,.9],[203.5,1.2],[205.5,1.0],[207.5,1.4],[209.5,1.1],[211.5,1.3],[213.5,.9],
  [215.5,1.2]
];

const dotColor = '#4472C4';
const labelColor = '#595959';

// Brazilian style currency: $25.000,00
const brl = d3.formatLocale({ decimal: ',', thousands: '.', grouping: [3], currency: ['$', ''] });
const money = brl.format('$,.2f');

const panels = [
  { title: 'Health Unic System cost (admission date)', ticks: sisTicks,
    points: [...sisAdmLow, ...sisAdmFill, ...sisAdmMid, ...sisAdmMore, ...sisAdmHigh],
    xr: [105, 585], yr: [302.5, 66.5], tx: 317, ty: 32 },
  { title: 'Hospital cost (admission date)', ticks: hospTicks,
    points: [...hospAdmLow, ...hospAdmFill, ...hospAdmMid, ...hospAdmMore, ...hospAdmHigh],
    xr: [710, 1168], yr: [302.5, 66.5], tx: 913, ty: 32 },
  { title: 'Health Unic System cost (outcome date)', ticks: sisTicks,
    points: [...sisOutLow, ...sisOutFill, ...sisOutMid, ...sisOutMore, ...sisOutHigh],
    xr: [106, 587], yr: [646.5, 411], tx: 308, ty: 372 },
  { title: 'Hospital cost (outcome date)', ticks: hospTicks,
    points: [...hospOutLow, ...hospOutFill, ...hospOutMid, ...hospOutMore, ...hospOutHigh],
    xr: [715, 1172], yr: [652, 399], tx: 913, ty: 371 },
];

const svg = d3.select('#chart');

// caption line cut off at the top of the figure
svg.append('text')
  .attr('x', 7).attr('y', 4)
  .style('font-family', "'Liberation Serif', 'Times New Roman', serif")
  .style('font-size', '21px')
  .attr('fill', '#000')
  .text('invasive ventilation.');

panels.forEach((p) => {
  const x = d3.scaleLinear().domain([monthStarts[0], monthStarts[monthStarts.length - 1]]).range(p.xr);
  const y = d3.scaleLinear().domain([0, d3.max(p.ticks)]).range(p.yr);
  const g = svg.append('g');

  g.append('text')
    .attr('x', p.tx).attr('y', p.ty)
    .attr('text-anchor', 'middle')
    .attr('dominant-baseline', 'central')
    .style('font-size', '17px')
    .style('font-weight', 700)
    .attr('fill', '#000')
    .text(p.title);

  const axisY = g.append('g')
    .attr('transform', `translate(${p.xr[0]},0)`)
    .call(d3.axisLeft(y).tickValues(p.ticks).tickFormat((d) => money(d * 1000)).tickSize(0).tickPadding(12));
  axisY.select('.domain').remove();
  axisY.selectAll('text').style('font-size', '13.6px').style('font-family', null).attr('fill', labelColor);

  const axisX = g.append('g')
    .attr('transform', `translate(0,${p.yr[0]})`)
    .call(d3.axisBottom(x).tickValues(monthStarts).tickFormat((d, i) => monthLabels[i]).tickSize(0).tickSizeOuter(0).tickPadding(14));
  axisX.select('.domain').attr('stroke', '#d9d9d9');
  axisX.selectAll('text').style('font-size', '13.6px').style('font-family', null).attr('fill', labelColor);

  g.append('g')
    .selectAll('circle')
    .data(p.points)
    .join('circle')
    .attr('cx', (d) => x(d[0]))
    .attr('cy', (d) => y(d[1]))
    .attr('r', 3.5)
    .attr('fill', dotColor);
});

// black frame lines between the four charts
svg.append('line').attr('x1', 612.5).attr('x2', 612.5).attr('y1', 12).attr('y2', 682)
  .attr('stroke', '#000').attr('stroke-width', 2.5);
svg.append('line').attr('x1', 0).attr('x2', 1208).attr('y1', 349.5).attr('y2', 349.5)
  .attr('stroke', '#000').attr('stroke-width', 2.5);
</script>
</body>
</html>
